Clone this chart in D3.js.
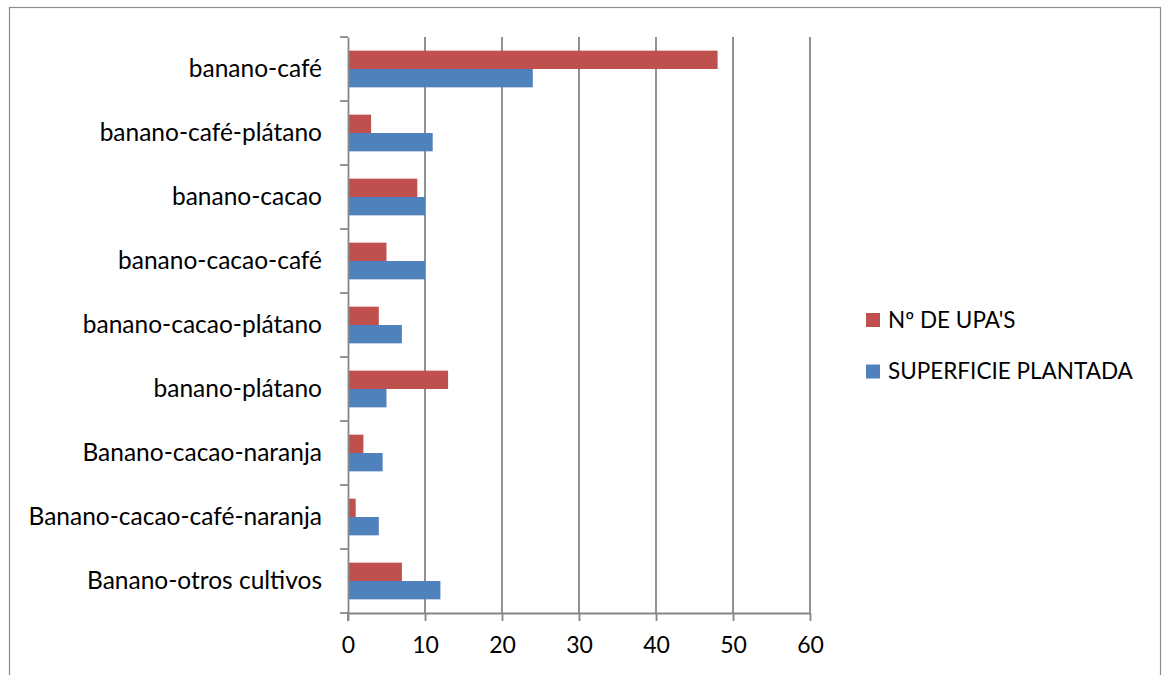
<!DOCTYPE html>
<html>
<head>
<meta charset="utf-8">
<script src="https://cdn.jsdelivr.net/npm/d3@7"></script>
<style>
  html, body { margin: 0; padding: 0; background: #fff; }
  svg { display: block; }
  text { font-family: Lato, Carlito, Calibri, "Open Sans", sans-serif; fill: #000; }
</style>
</head>
<body>
<svg id="chart" width="1162" height="675"></svg>
<script>
// Crop combinations, top to bottom
const categories = [
  "banano-café",
  "banano-café-plátano",
  "banano-cacao",
  "banano-cacao-café",
  "banano-cacao-plátano",
  "banano-plátano",
  "Banano-cacao-naranja",
  "Banano-cacao-café-naranja",
  "Banano-otros cultivos"
];
const seriesNames = ["Nº DE UPA'S", "SUPERFICIE PLANTADA"];
const upas = [48, 3, 9, 5, 4, 13, 2, 1, 7];
const superficie = [24, 11, 10, 10, 7, 5, 4.5, 4, 12];
const xTicks = [0, 10, 20, 30, 40, 50, 60];
const colors = ["#C0504D", "#4F81BD"];

const svg = d3.select("#chart");
const plot = { left: 348, right: 810, top: 37, bottom: 613 };
const gridColor = "#868686";
const fontFam = "Lato, Carlito, Calibri, sans-serif";

// Outer chart frame
svg.append("rect")
  .attr("x", 9.5).attr("y", 7.5)
  .attr("width", 1151).attr("height", 700)
  .attr("fill", "none").attr("stroke", "#8c8c8c").attr("stroke-width", 1.2);

const x = d3.scaleLinear().domain([0, 60]).range([plot.left, plot.right]);
const y = d3.scaleBand().domain(categories).range([plot.top, plot.bottom])
  .paddingInner(0.427).paddingOuter(0.2135);
const inner = d3.scaleBand().domain(seriesNames).range([0, y.bandwidth()]);

// Vertical gridlines
svg.append("g").selectAll("line")
  .data(xTicks.filter(d => d > 0))
  .join("line")
  .attr("x1", d => x(d)).attr("x2", d => x(d))
  .attr("y1", plot.top).attr("y2", plot.bottom)
  .attr("stroke", gridColor).attr("stroke-width", 1.8);

// Bars
const rows = categories.map((c, i) => ({ cat: c, vals: [upas[i], superficie[i]] }));
const groups = svg.append("g").selectAll("g")
  .data(rows).join("g")
  .attr("transform", d => `translate(0,${y(d.cat)})`);
groups.selectAll("rect")
  .data(d => d.vals.map((v, k) => ({ v, k })))
  .join("rect")
  .attr("x", x(0))
  .attr("y", d => inner(seriesNames[d.k]))
  .attr("width", d => x(d.v) - x(0))
  .attr("height", inner.bandwidth())
  .attr("fill", d => colors[d.k]);

// Category axis
const yAxis = d3.axisLeft(y).tickSize(0).tickPadding(26);
const gy = svg.append("g").attr("transform", `translate(${plot.left},0)`).call(yAxis);
gy.select(".domain").attr("stroke", gridColor).attr("stroke-width", 1.8);
gy.selectAll(".tick text").attr("font-size", 24.5).attr("font-family", fontFam);
// Category boundary ticks
const bounds = d3.range(categories.length + 1).map(i => plot.top + i * y.step());
svg.append("g").selectAll("line").data(bounds).join("line")
  .attr("x1", plot.left - 8).attr("x2", plot.left)
  .attr("y1", d => d).attr("y2", d => d)
  .attr("stroke", gridColor).attr("stroke-width", 1.8);

// Value axis
const xAxis = d3.axisBottom(x).tickValues(xTicks).tickSize(8).tickPadding(16).tickSizeOuter(0);
const gx = svg.append("g").attr("transform", `translate(0,${plot.bottom})`).call(xAxis);
gx.select(".domain").attr("stroke", gridColor).attr("stroke-width", 1.8);
gx.selectAll(".tick line").attr("stroke", gridColor).attr("stroke-width", 1.8);
gx.selectAll(".tick text").attr("font-size", 23).attr("font-family", fontFam);
// Left edge line down to tick
svg.append("line")
  .attr("x1", plot.left).attr("x2", plot.left)
  .attr("y1", plot.bottom).attr("y2", plot.bottom + 8)
  .attr("stroke", gridColor).attr("stroke-width", 1.8);

// Legend
const legend = svg.append("g").attr("transform", "translate(866,313)");
const li = legend.selectAll("g").data(seriesNames).join("g")
  .attr("transform", (d, i) => `translate(0,${i * 51.5})`);
li.append("rect").attr("width", 14).attr("height", 14)
  .attr("fill", (d, i) => colors[i]);
li.append("text").attr("x", 22).attr("y", 7).attr("dy", "0.35em")
  .attr("font-size", 22.5).text(d => d);
</script>
</body>
</html>
